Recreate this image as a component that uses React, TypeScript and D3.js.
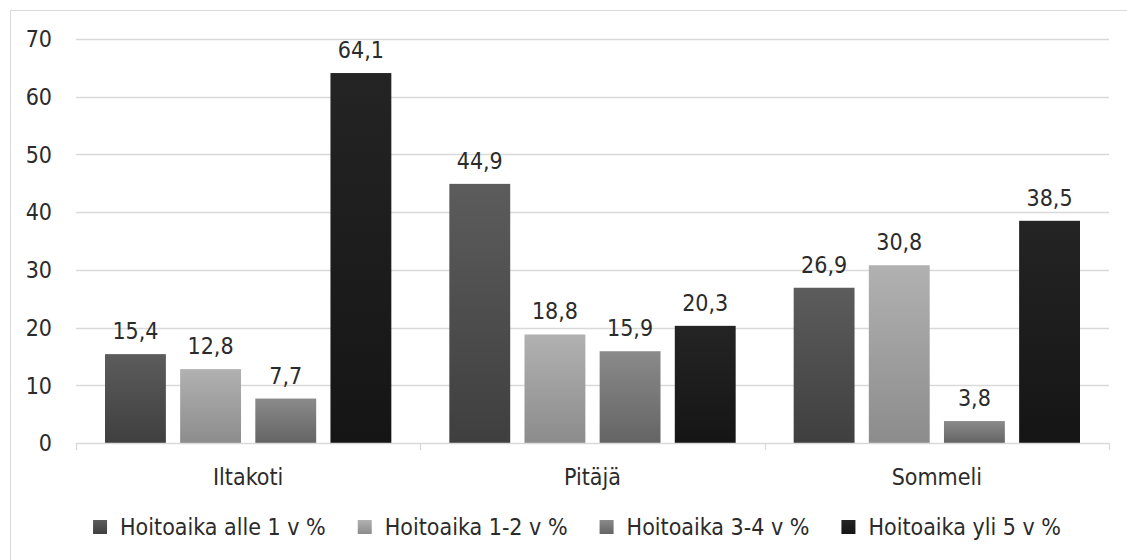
import * as d3 from 'd3';
import React, { useEffect, useRef } from 'react';

// chart data
const categories = ['Iltakoti', 'Pitäjä', 'Sommeli'];
const seriesNames = ['Hoitoaika alle 1 v %', 'Hoitoaika 1-2 v %', 'Hoitoaika 3-4 v %', 'Hoitoaika yli 5 v %'];
const alle1 = [15.4, 44.9, 26.9];
const v1to2 = [12.8, 18.8, 30.8];
const v3to4 = [7.7, 15.9, 3.8];
const yli5 = [64.1, 20.3, 38.5];
const yTicks = [0, 10, 20, 30, 40, 50, 60, 70];

// gradient top / bottom per series
const colorStops = [
  ['#5c5c5c', '#3f3f3f'],
  ['#b1b1b1', '#8c8c8c'],
  ['#8a8a8a', '#646464'],
  ['#242424', '#151515'],
];

const FONT = '"DejaVu Sans Condensed", "DejaVu Sans", sans-serif';
const FS = '23px';

const App = () => {
  const chartRef = useRef<SVGSVGElement>(null);

  useEffect(() => {
    drawChart();
  }, []);

  const drawChart = () => {
    const svg = d3.select(chartRef.current);
    svg.selectAll('*').remove();

    const width = 1127, height = 560;
    const margin = { top: 39, right: 18, bottom: 117, left: 76 };
    const innerW = width - margin.left - margin.right;
    const innerH = height - margin.top - margin.bottom;
    const values = [alle1, v1to2, v3to4, yli5];

    // chart border
    svg.append('rect')
      .attr('x', 10.5).attr('y', 10.5)
      .attr('width', 1140).attr('height', 600)
      .attr('fill', '#fff').attr('stroke', '#d9d9d9');

    const defs = svg.append('defs');
    colorStops.forEach((c, i) => {
      const lg = defs.append('linearGradient')
        .attr('id', 'grad' + i)
        .attr('x1', 0).attr('y1', 0).attr('x2', 0).attr('y2', 1);
      lg.append('stop').attr('offset', '0%').attr('stop-color', c[0]);
      lg.append('stop').attr('offset', '100%').attr('stop-color', c[1]);
    });

    const txt = (sel: any) => sel
      .style('font-family', FONT).style('font-stretch', 'condensed')
      .style('font-size', FS).style('fill', '#2b2b2b');

    const g = svg.append('g').attr('transform', `translate(${margin.left},${margin.top})`);

    const x0 = d3.scaleBand().domain(categories).range([0, innerW]).paddingInner(0).paddingOuter(0);
    const x1 = d3.scaleBand().domain(seriesNames).range([29, x0.bandwidth() - 29]).paddingInner(0.19);
    const y = d3.scaleLinear().domain([0, 70]).range([innerH, 0]);

    // gridlines
    g.append('g').selectAll('line').data(yTicks.slice(1)).enter().append('line')
      .attr('x1', 0).attr('x2', innerW)
      .attr('y1', d => Math.round(y(d)) + 0.5).attr('y2', d => Math.round(y(d)) + 0.5)
      .attr('stroke', '#d9d9d9').attr('stroke-width', 1.3);

    // y tick labels
    g.append('g').selectAll('text').data(yTicks).enter().append('text')
      .attr('x', -24).attr('y', d => y(d)).attr('dy', '0.36em')
      .attr('text-anchor', 'end')
      .call(txt)
      .text(d => d);

    // bars
    const groups = g.append('g').selectAll('g').data(categories).enter().append('g')
      .attr('transform', d => `translate(${x0(d)},0)`);

    groups.selectAll('rect')
      .data((d, ci) => seriesNames.map((s, si) => ({ s, si, v: values[si][ci] })))
      .enter().append('rect')
      .attr('x', d => x1(d.s)!)
      .attr('y', d => y(d.v))
      .attr('width', x1.bandwidth())
      .attr('height', d => innerH - y(d.v))
      .attr('fill', d => `url(#grad${d.si})`);

    groups.selectAll('text')
      .data((d, ci) => seriesNames.map((s, si) => ({ s, si, v: values[si][ci] })))
      .enter().append('text')
      .attr('x', d => x1(d.s)! + x1.bandwidth() / 2)
      .attr('y', d => y(d.v) - 15)
      .attr('text-anchor', 'middle')
      .call(txt)
      .text(d => d.v.toFixed(1).replace('.', ','));

    // x axis line and ticks
    g.append('line')
      .attr('x1', 0).attr('x2', innerW)
      .attr('y1', innerH + 0.5).attr('y2', innerH + 0.5)
      .attr('stroke', '#d9d9d9').attr('stroke-width', 1.3);
    const tickX = categories.map(c => x0(c)!).concat([innerW]);
    g.append('g').selectAll('line').data(tickX).enter().append('line')
      .attr('x1', d => Math.round(d) + 0.5).attr('x2', d => Math.round(d) + 0.5)
      .attr('y1', innerH).attr('y2', innerH + 7)
      .attr('stroke', '#d9d9d9').attr('stroke-width', 1.3);

    // category labels
    g.append('g').selectAll('text').data(categories).enter().append('text')
      .attr('x', d => x0(d)! + x0.bandwidth() / 2)
      .attr('y', innerH + 42)
      .attr('text-anchor', 'middle')
      .call(txt)
      .text(d => d);

    // legend
    const legend = svg.append('g');
    const items = legend.selectAll('g').data(seriesNames).enter().append('g');
    items.append('rect')
      .attr('width', 14).attr('height', 14).attr('y', -7)
      .attr('fill', (d, i) => `url(#grad${i})`);
    items.append('text')
      .attr('x', 27).attr('dy', '0.36em')
      .call(txt)
      .text(d => d);
    const widths: number[] = [];
    items.select('text').each(function () {
      widths.push((this as SVGTextElement).getComputedTextLength());
    });
    const gap = 32;
    const total = widths.reduce((a, w) => a + 27 + w, 0) + gap * (widths.length - 1);
    let cx = 577 - total / 2;
    items.attr('transform', (d, i) => {
      const t = `translate(${cx},527)`;
      cx += 27 + widths[i] + gap;
      return t;
    });
  };

  return (
    <div style={{ position: 'absolute', left: 0, top: 0 }}>
      <svg ref={chartRef} width={1127} height={560} style={{ display: 'block' }}></svg>
    </div>
  );
};

export default App;
